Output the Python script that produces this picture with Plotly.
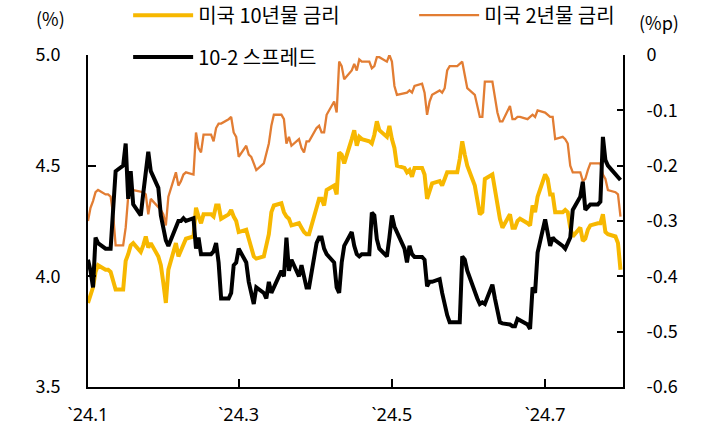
import pandas as pd
import plotly.graph_objects as go

# Business days 2024-01-01 .. 2024-07-31 (holidays carry previous value)
dates = pd.bdate_range("2024-01-01", "2024-07-31")

us10y = [
    # Jan
    3.88, 3.92, 3.95, 4.02, 4.05, 4.03, 4.03, 4.02, 3.98, 3.94, 3.94, 4.07, 4.10, 4.14, 4.15, 4.11, 4.14, 4.18, 4.13, 4.15, 4.09, 4.05, 3.97,
    # Feb
    3.88, 4.03, 4.15, 4.09, 4.12, 4.15, 4.17, 4.18, 4.31, 4.27, 4.24, 4.28, 4.28, 4.27, 4.32, 4.32, 4.26, 4.28, 4.30, 4.27, 4.25,
    # Mar
    4.20, 4.21, 4.17, 4.13, 4.09, 4.08, 4.09, 4.14, 4.19, 4.29, 4.32, 4.33, 4.29, 4.27, 4.26, 4.23, 4.24, 4.22, 4.20, 4.19, 4.19,
    # Apr
    4.31, 4.35, 4.35, 4.32, 4.39, 4.41, 4.37, 4.56, 4.55, 4.51, 4.62, 4.66, 4.59, 4.63, 4.62, 4.61, 4.60, 4.64, 4.70, 4.66, 4.63, 4.68,
    # May
    4.62, 4.58, 4.50, 4.49, 4.47, 4.48, 4.45, 4.49, 4.49, 4.46, 4.35, 4.38, 4.42, 4.43, 4.41, 4.44, 4.47, 4.47, 4.47, 4.53, 4.61, 4.55, 4.50,
    # Jun
    4.41, 4.33, 4.28, 4.29, 4.44, 4.46, 4.39, 4.32, 4.26, 4.22, 4.28, 4.22, 4.22, 4.25, 4.26, 4.24, 4.23, 4.32, 4.29, 4.36,
    # Jul
    4.46, 4.44, 4.37, 4.37, 4.29, 4.29, 4.30, 4.29, 4.22, 4.18, 4.22, 4.16, 4.17, 4.21, 4.23, 4.24, 4.24, 4.28, 4.20, 4.19, 4.18, 4.15, 4.03,
]

us2y = [
    # Jan
    4.25, 4.31, 4.34, 4.38, 4.39, 4.37, 4.37, 4.36, 4.28, 4.14, 4.14, 4.22, 4.36, 4.37, 4.39, 4.38, 4.38, 4.37, 4.28, 4.35, 4.31, 4.30, 4.28,
    # Feb
    4.23, 4.36, 4.47, 4.41, 4.43, 4.46, 4.47, 4.46, 4.65, 4.58, 4.56, 4.64, 4.64, 4.61, 4.67, 4.69, 4.69, 4.71, 4.72, 4.65, 4.63,
    # Mar
    4.54, 4.59, 4.55, 4.54, 4.51, 4.48, 4.51, 4.56, 4.60, 4.68, 4.73, 4.73, 4.71, 4.60, 4.63, 4.59, 4.62, 4.58, 4.56, 4.61, 4.61,
    # Apr
    4.67, 4.68, 4.65, 4.65, 4.73, 4.79, 4.74, 4.97, 4.95, 4.89, 4.93, 4.96, 4.93, 4.98, 4.97, 4.97, 4.94, 4.95, 4.99, 4.99, 4.97, 5.00,
    # May
    4.97, 4.86, 4.82, 4.83, 4.83, 4.84, 4.83, 4.86, 4.87, 4.83, 4.73, 4.79, 4.82, 4.84, 4.83, 4.85, 4.93, 4.95, 4.95, 4.96, 4.97, 4.91, 4.85,
    # Jun
    4.82, 4.77, 4.72, 4.72, 4.88, 4.88, 4.80, 4.74, 4.70, 4.70, 4.77, 4.71, 4.71, 4.72, 4.72, 4.71, 4.72, 4.73, 4.72, 4.75,
    # Jul
    4.74, 4.73, 4.72, 4.72, 4.62, 4.63, 4.62, 4.60, 4.50, 4.47, 4.47, 4.43, 4.44, 4.48, 4.51, 4.51, 4.51, 4.46, 4.44, 4.39, 4.38, 4.37, 4.27,
]

spread = [
    # Jan
    -0.37, -0.39, -0.42, -0.33, -0.34, -0.35, -0.35, -0.35, -0.28, -0.21, -0.20, -0.16, -0.26, -0.21, -0.27, -0.29, -0.25, -0.21, -0.175, -0.21, -0.24, -0.29, -0.31,
    # Feb
    -0.335, -0.345, -0.31, -0.30, -0.30, -0.295, -0.30, -0.295, -0.35, -0.33, -0.36, -0.36, -0.36, -0.355, -0.34, -0.375, -0.44, -0.44, -0.43, -0.38, -0.375,
    # Mar
    -0.35, -0.375, -0.41, -0.43, -0.45, -0.42, -0.43, -0.44, -0.41, -0.43, -0.42, -0.39, -0.40, -0.33, -0.39, -0.37, -0.40, -0.38, -0.40, -0.42, -0.42,
    # Apr
    -0.34, -0.33, -0.33, -0.35, -0.36, -0.375, -0.42, -0.43, -0.375, -0.345, -0.32, -0.345, -0.36, -0.364, -0.36, -0.36, -0.285, -0.29, -0.333, -0.35, -0.364, -0.33,
    # May
    -0.29, -0.31, -0.32, -0.35, -0.375, -0.345, -0.36, -0.365, -0.365, -0.37, -0.418, -0.41, -0.41, -0.405, -0.43, -0.454, -0.47, -0.483, -0.483, -0.483, -0.364, -0.37, -0.39,
    # Jun
    -0.43, -0.44, -0.45, -0.447, -0.45, -0.415, -0.44, -0.46, -0.483, -0.485, -0.487, -0.49, -0.49, -0.477, -0.48, -0.487, -0.495, -0.42, -0.43, -0.357,
    # Jul
    -0.297, -0.32, -0.345, -0.33, -0.335, -0.345, -0.35, -0.34, -0.33, -0.28, -0.256, -0.229, -0.28, -0.275, -0.27, -0.27, -0.265, -0.148, -0.19, -0.20, -0.215, -0.22, -0.226,
]

x_tick_vals = ["2024-01-01", "2024-03-01", "2024-05-01", "2024-07-01"]
x_tick_text = ["`24.1", "`24.3", "`24.5", "`24.7"]
y_tick_vals = [3.5, 4.0, 4.5, 5.0]
y_tick_text = ["3.5", "4.0", "4.5", "5.0"]
y2_tick_vals = [-0.6, -0.5, -0.4, -0.3, -0.2, -0.1, 0.0]
y2_tick_text = ["-0.6", "-0.5", "-0.4", "-0.3", "-0.2", "-0.1", "0"]

FONT = "Noto Sans CJK KR"
C10 = "#F7B800"
C2 = "#E27D33"

fig = go.Figure()
fig.add_trace(go.Scatter(
    x=dates, y=us2y, name="미국 2년물 금리", mode="lines",
    line=dict(color=C2, width=2.3), legend="legend", legendrank=2, legendwidth=140,
))
fig.add_trace(go.Scatter(
    x=dates, y=us10y, name="미국 10년물 금리", mode="lines",
    line=dict(color=C10, width=4), legend="legend", legendrank=1, legendwidth=211,
))
fig.add_trace(go.Scatter(
    x=dates, y=spread, name="10-2 스프레드", mode="lines", yaxis="y2",
    line=dict(color="black", width=4), legend="legend2",
))

axis_font = dict(family=FONT, size=18, color="black")
xtick_font = dict(family="Noto Sans, " + FONT, size=18, color="black")
legend_font = dict(family=FONT, size=20, color="black")

fig.update_layout(
    width=720, height=441,
    margin=dict(l=88, r=97, t=55, b=54, autoexpand=False),
    paper_bgcolor="white", plot_bgcolor="white",
    font=axis_font,
    hovermode=False,
    showlegend=True,
    legend=dict(
        orientation="h", x=0.075, xanchor="left", y=1.12, yanchor="middle",
        font=legend_font, itemwidth=60, bgcolor="rgba(0,0,0,0)", traceorder="normal",
        itemclick=False, itemdoubleclick=False,
    ),
    legend2=dict(
        orientation="h", x=0.075, xanchor="left", y=0.994, yanchor="middle",
        font=legend_font, itemwidth=60, bgcolor="rgba(0,0,0,0)",
        itemclick=False, itemdoubleclick=False,
    ),
    xaxis=dict(
        type="date", range=["2024-01-01", "2024-08-01"],
        tickvals=x_tick_vals, ticktext=x_tick_text,
        ticks="inside", ticklen=8, tickwidth=1.5, tickcolor="black",
        showline=True, linecolor="black", linewidth=2,
        showgrid=False, zeroline=False, tickfont=xtick_font,
        ticklabelstandoff=10,
    ),
    yaxis=dict(
        range=[3.5, 5.0], tickvals=y_tick_vals, ticktext=y_tick_text,
        ticks="inside", ticklen=8, tickwidth=1.5, tickcolor="black",
        showline=True, linecolor="black", linewidth=2,
        showgrid=False, zeroline=False, tickfont=axis_font,
        ticklabelstandoff=22,
    ),
    yaxis2=dict(
        range=[-0.6, 0.0], overlaying="y", side="right",
        tickvals=y2_tick_vals, ticktext=y2_tick_text,
        ticks="inside", ticklen=6, tickwidth=1.5, tickcolor="black",
        showline=True, linecolor="black", linewidth=2,
        showgrid=False, zeroline=False, tickfont=axis_font,
        ticklabelstandoff=18,
    ),
    annotations=[
        dict(text="(%)", xref="paper", yref="paper", x=(50 - 88) / 535, y=(387 - 18) / 332,
             xanchor="center", yanchor="middle", showarrow=False, font=axis_font),
        dict(text="(%p)", xref="paper", yref="paper", x=(659 - 88) / 535, y=(387 - 22) / 332,
             xanchor="center", yanchor="middle", showarrow=False, font=axis_font),
    ],
)

fig.write_html("out.html")
